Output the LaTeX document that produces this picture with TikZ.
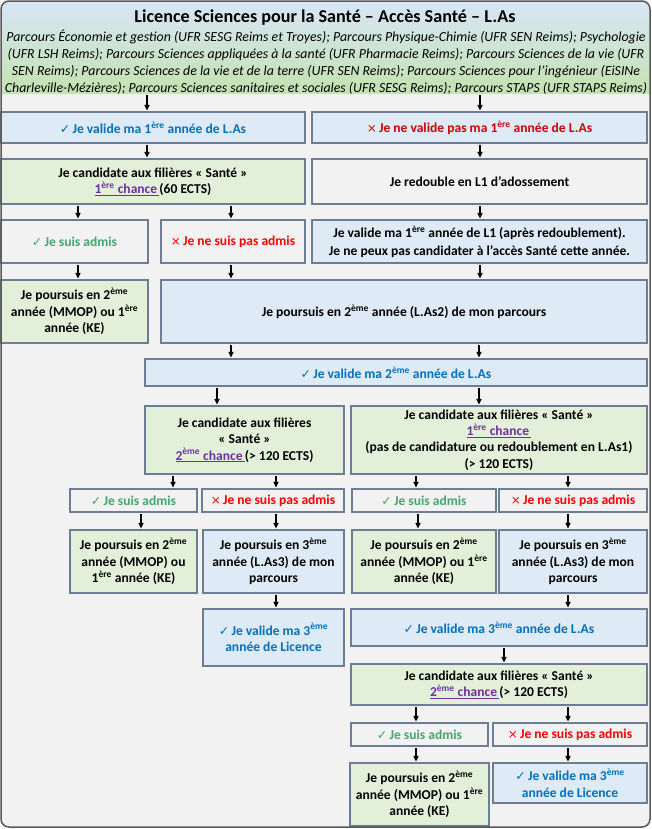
\documentclass[tikz,border=0pt]{standalone}
\usepackage{fontspec}
\setmainfont{Carlito}
\newfontfamily\symfont{DejaVu Sans}
\usetikzlibrary{arrows.meta,calc}
\definecolor{bgc}{RGB}{242,242,242}
\definecolor{framec}{RGB}{89,89,89}
\definecolor{bfill}{RGB}{222,235,247}
\definecolor{gfill}{RGB}{226,240,217}
\definecolor{bord}{RGB}{110,125,150}
\definecolor{tblue}{RGB}{0,112,192}
\definecolor{tred}{RGB}{255,0,0}
\definecolor{tdred}{RGB}{210,0,0}
\definecolor{tgreen}{RGB}{70,165,110}
\definecolor{purp}{RGB}{112,48,160}
\definecolor{htop}{RGB}{216,230,247}
\definecolor{hmid}{RGB}{222,236,232}
\definecolor{hbot}{RGB}{196,226,176}

\newcommand\ex[1]{\textsuperscript{#1}}
\newcommand\ok{{\symfont\fontseries{m}\fontsize{12.5}{12.5}\selectfont ✓}\,}
\newcommand\ko{{\symfont\fontseries{m}\fontsize{12}{12}\selectfont ×}\,}
\newcommand\chance[1]{\textcolor{purp}{\underline{#1\,}}}
\newcommand\arrx[3]{\draw[arr] (#1.south -| #3,0) -- (#2.north -| #3,0);}

\begin{document}
\begin{tikzpicture}[x=1bp,y=-1bp,
 box/.style={draw=bord, line width=1.2bp, align=center, font=\bfseries\fontsize{13.6}{16.5}\selectfont, inner sep=1bp},
 bbox/.style={box, fill=bfill},
 gbox/.style={box, fill=gfill},
 wbox/.style={box, fill=bgc},
 btxt/.style={text=tblue},
 rtxt/.style={text=tred},
 drtxt/.style={text=tdred},
 gtxt/.style={text=tgreen},
 arr/.style={-{Triangle[length=5.5bp,width=5bp]}, line width=1.5bp, black, shorten <=1.5bp, shorten >=1bp}]
\useasboundingbox (0,0) rectangle (652,829);

% frame and header
\fill[bgc, rounded corners=8bp] (1,1) rectangle (650,827);
\begin{scope}
\clip[rounded corners=8bp] (1,1) rectangle (650,827);
\shade[top color=htop, middle color=hmid, bottom color=hbot] (1,1) rectangle (650,93);
\end{scope}
\node[inner sep=0, minimum width=649bp, minimum height=92bp] (hdr) at (325.5,47) {};
\node[font=\bfseries\fontsize{18.2}{19}\selectfont] (title) at (325,18) {Licence Sciences pour la Santé – Accès Santé – L.As};
\node[font=\itshape\fontsize{13.9}{17}\selectfont, align=center, inner sep=0] (hlines) at (326,62.5) {Parcours Économie et gestion (UFR SESG Reims et Troyes); Parcours Physique-Chimie (UFR SEN Reims); Psychologie\\(UFR LSH Reims); Parcours Sciences appliquées à la santé (UFR Pharmacie Reims); Parcours Sciences de la vie (UFR\\SEN Reims); Parcours Sciences de la vie et de la terre (UFR SEN Reims); Parcours Sciences pour l'ingénieur (EiSINe\\Charleville-Mézières); Parcours Sciences sanitaires et sociales (UFR SESG Reims); Parcours STAPS (UFR STAPS Reims)};

% row 1
\node[bbox, btxt, minimum width=304bp, minimum height=31bp] (r1l) at (153,127.5) {\ok Je valide ma 1\ex{ère} année de L.As};
\node[bbox, drtxt, minimum width=335bp, minimum height=31bp] (r1r) at (479.5,127.5) {\ko Je ne valide pas ma 1\ex{ère} année de L.As};
% row 2
\node[gbox, minimum width=304bp, minimum height=45bp] (r2l) at (153,181.5) {Je candidate aux filières « Santé »\\\chance{1\ex{ère} chance}(60 ECTS)};
\node[wbox, minimum width=335bp, minimum height=45bp] (r2r) at (479.5,181.5) {Je redouble en L1 d’adossement};
% row 3
\node[wbox, gtxt, minimum width=147bp, minimum height=43bp] (r3a) at (74.5,241.5) {\ok Je suis admis};
\node[wbox, rtxt, minimum width=144bp, minimum height=43bp] (r3b) at (233,241.5) {\ko Je ne suis pas admis};
\node[bbox, font=\bfseries\fontsize{13.6}{18}\selectfont, minimum width=335bp, minimum height=43bp] (r3c) at (479.5,241.5) {Je valide ma 1\ex{ère} année de L1 (après redoublement).\\Je ne peux pas candidater à l’accès Santé cette année.};
% row 4
\node[gbox, minimum width=147bp, minimum height=63bp] (r4a) at (74.5,311.5) {Je poursuis en 2\ex{ème}\\année (MMOP) ou 1\ex{ère}\\année (KE)};
\node[bbox, minimum width=486bp, minimum height=63bp] (r4b) at (404,311.5) {Je poursuis en 2\ex{ème} année (L.As2) de mon parcours};
% row 5
\node[bbox, btxt, minimum width=502bp, minimum height=27bp] (r5) at (396,372.5) {\ok Je valide ma 2\ex{ème} année de L.As};
% row 6
\node[gbox, minimum width=199bp, minimum height=68bp] (r6a) at (244.5,440) {Je candidate aux filières\\« Santé »\\\chance{2\ex{ème} chance}(> 120 ECTS)};
\node[gbox, font=\bfseries\fontsize{13.6}{16.3}\selectfont, minimum width=296bp, minimum height=68bp] (r6b) at (499,440) {Je candidate aux filières « Santé »\\\chance{1\ex{ère} chance}\\(pas de candidature ou redoublement en L.As1)\\(> 120 ECTS)};
% row 7
\node[wbox, gtxt, minimum width=127bp, minimum height=23bp] (r7a) at (133.5,500.5) {\ok Je suis admis};
\node[wbox, rtxt, minimum width=142bp, minimum height=23bp] (r7b) at (273,500.5) {\ko Je ne suis pas admis};
\node[wbox, gtxt, minimum width=144bp, minimum height=23bp] (r7c) at (424,500.5) {\ok Je suis admis};
\node[wbox, rtxt, minimum width=148bp, minimum height=23bp] (r7d) at (573,500.5) {\ko Je ne suis pas admis};
% row 8
\node[gbox, minimum width=127bp, minimum height=63bp] (r8a) at (133.5,561.5) {Je poursuis en 2\ex{ème}\\année (MMOP) ou\\1\ex{ère} année (KE)};
\node[bbox, minimum width=141bp, minimum height=63bp] (r8b) at (273.5,561.5) {Je poursuis en 3\ex{ème}\\année (L.As3) de mon\\parcours};
\node[gbox, minimum width=144bp, minimum height=63bp] (r8c) at (424,561.5) {Je poursuis en 2\ex{ème}\\année (MMOP) ou 1\ex{ère}\\année (KE)};
\node[bbox, minimum width=148bp, minimum height=63bp] (r8d) at (573,561.5) {Je poursuis en 3\ex{ème}\\année (L.As3) de mon\\parcours};
% row 9
\node[bbox, btxt, minimum width=141bp, minimum height=57bp] (r9a) at (273.5,637.5) {\ok Je valide ma 3\ex{ème}\\année de Licence};
\node[bbox, btxt, minimum width=296bp, minimum height=37bp] (r9b) at (499,627.5) {\ok Je valide ma 3\ex{ème} année de L.As};
% row 10
\node[gbox, minimum width=296bp, minimum height=41bp] (r10) at (499,684.5) {Je candidate aux filières « Santé »\\\chance{2\ex{ème} chance}(> 120 ECTS)};
% row 11
\node[wbox, gtxt, minimum width=137bp, minimum height=23bp] (r11a) at (419.5,734.5) {\ok Je suis admis};
\node[wbox, rtxt, minimum width=154bp, minimum height=23bp] (r11b) at (570,734.5) {\ko Je ne suis pas admis};
% row 12
\node[gbox, minimum width=139bp, minimum height=63bp] (r12a) at (419.5,794.5) {Je poursuis en 2\ex{ème}\\année (MMOP) ou 1\ex{ère}\\année (KE)};
\node[bbox, btxt, minimum width=154bp, minimum height=40bp] (r12b) at (570,783) {\ok Je valide ma 3\ex{ème}\\année de Licence};

% frame border on top
\draw[framec, line width=1.5bp, rounded corners=8bp] (1,1) rectangle (650,827);

% arrows
\arrx{hdr}{r1l}{147}
\arrx{hdr}{r1r}{480}
\arrx{r1l}{r2l}{147}
\arrx{r1r}{r2r}{480}
\arrx{r2l}{r3a}{78}
\arrx{r2l}{r3b}{231}
\arrx{r2r}{r3c}{480}
\arrx{r3a}{r4a}{78}
\arrx{r3b}{r4b}{231}
\arrx{r3c}{r4b}{480}
\arrx{r4b}{r5}{231}
\arrx{r4b}{r5}{479}
\arrx{r5}{r6a}{217}
\arrx{r5}{r6b}{479}
\arrx{r6a}{r7a}{173}
\arrx{r6a}{r7b}{276}
\arrx{r6b}{r7c}{416}
\arrx{r6b}{r7d}{568}
\arrx{r7a}{r8a}{141}
\arrx{r7b}{r8b}{276}
\arrx{r7c}{r8c}{418}
\arrx{r7d}{r8d}{568}
\arrx{r8b}{r9a}{276}
\arrx{r8d}{r9b}{568}
\arrx{r9b}{r10}{504}
\arrx{r10}{r11a}{416}
\arrx{r10}{r11b}{568}
\arrx{r11a}{r12a}{416}
\arrx{r11b}{r12b}{568}
\end{tikzpicture}
\end{document}
